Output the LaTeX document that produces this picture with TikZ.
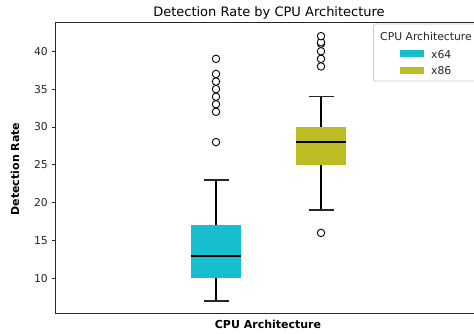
\documentclass[tikz,border=0pt]{standalone}
\usepackage{fontspec}
\setmainfont{DejaVu Sans}
\definecolor{boxcyan}{HTML}{17BECF}
\definecolor{boxolive}{HTML}{BCBD22}
\definecolor{spinegray}{HTML}{262626}
\tikzset{
  spine/.style={line width=0.8pt, draw=spinegray},
  tickmark/.style={line width=0.8pt, draw=spinegray},
  ticklabel/.style={anchor=east, inner sep=0pt, font=\fontsize{10.8}{13}\selectfont, text=spinegray},
  whisker/.style={line width=1.9pt, draw=black},
  capline/.style={line width=1.5pt, draw=black!85},
  medianline/.style={line width=2pt, draw=black},
  flier/.style={circle, draw=black, line width=0.9pt, fill=white, minimum size=7.5pt, inner sep=0pt},
  legendtext/.style={inner sep=0pt, font=\fontsize{10.8}{13}\selectfont, text=spinegray},
}
\begin{document}
\begin{tikzpicture}[x=1pt, y=1pt]
  \useasboundingbox (0,0) rectangle (474,334);
  \clip (0,0) rectangle (474,334);
  \fill[white] (0,0) rectangle (474,334);

  % title and axis labels
  \node[inner sep=0pt, font=\fontsize{13}{15}\selectfont, text=black] (title) at (269,321.5) {Detection Rate by CPU Architecture};
  \node[inner sep=0pt, font=\fontsize{11}{13}\selectfont\bfseries, text=black] (xlabel) at (268,10) {CPU Architecture};
  \node[inner sep=0pt, rotate=90, font=\fontsize{11}{13}\selectfont\bfseries, text=black] (ylabel) at (15,165) {Detection Rate};

  % data scope: one y unit is one detection-rate point
  \begin{scope}[yshift=-19.97pt, y=7.567pt]
    % y ticks
    \foreach \v in {10,15,...,40} {
      \draw[tickmark] (55,\v) -- (51.5,\v);
      \node[ticklabel] (yt\v) at (48,\v) {\v};
    }

    % x64 box
    \fill[boxcyan] (191,10) rectangle (241,17);
    \draw[whisker] (216,10) -- (216,7);
    \draw[whisker] (216,17) -- (216,23);
    \draw[capline] (203.5,7) -- (228.5,7);
    \draw[capline] (203.5,23) -- (228.5,23);
    \draw[medianline] (191,13) -- (241,13);
    \foreach \v [count=\i] in {28,32,33,34,35,36,37,39}
      \node[flier] (fa\i) at (216,\v) {};

    % x86 box
    \fill[boxolive] (296,25) rectangle (346,30);
    \draw[whisker] (321,25) -- (321,19);
    \draw[whisker] (321,30) -- (321,34);
    \draw[capline] (308.5,19) -- (333.5,19);
    \draw[capline] (308.5,34) -- (333.5,34);
    \draw[medianline] (296,28) -- (346,28);
    \foreach \v [count=\i] in {16,38,39,40,41,41.2,42}
      \node[flier] (fb\i) at (321,\v) {};
  \end{scope}

  % axes frame (right spine lies past the page edge)
  \draw[spine] (482,311.3) -- (55,311.3) -- (55,21) -- (482,21);

  % legend
  \draw[draw=black!20, fill=white, fill opacity=0.8, line width=0.8pt, rounded corners=2pt]
    (373.5,253) rectangle (482,310);
  \node[legendtext] (legtitle) at (426,297.3) {CPU Architecture};
  \fill[boxcyan] (399.5,276.5) rectangle (423.5,283.5);
  \node[legendtext, anchor=west] (leg64) at (431,279.8) {x64};
  \fill[boxolive] (399.5,260) rectangle (423.5,267);
  \node[legendtext, anchor=west] (leg86) at (431,263.3) {x86};
\end{tikzpicture}
\end{document}
